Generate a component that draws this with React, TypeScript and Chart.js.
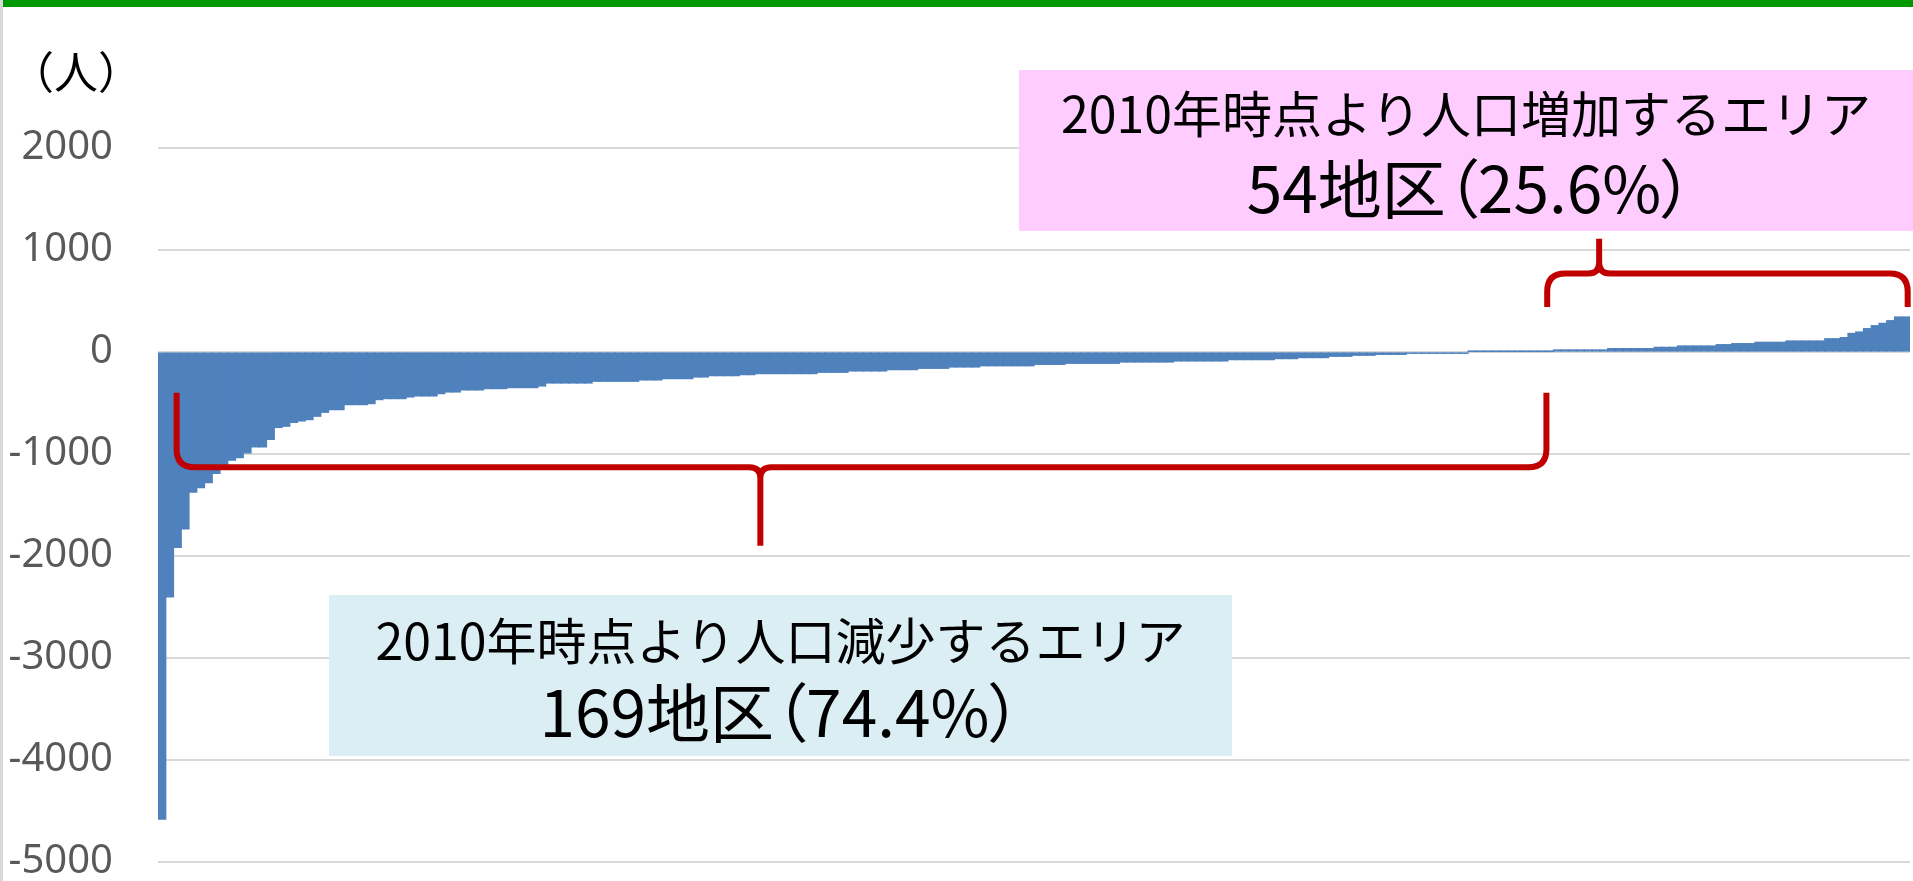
import React, { useEffect, useRef } from "react";
import { Chart, registerables } from "chart.js";

Chart.register(...registerables);

// Population change per district (2010 base), sorted ascending
const populationChange: number[] = [
  -4580, -2400, -1915, -1735, -1375, -1330, -1280, -1190, -1125, -1060,
  -1035, -990, -930, -930, -858, -740, -728, -690, -676, -663,
  -630, -591, -565, -565, -516, -516, -516, -506, -467, -457,
  -457, -457, -441, -431, -431, -431, -408, -392, -392, -372,
  -372, -372, -359, -359, -359, -349, -349, -349, -349, -333,
  -304, -304, -304, -304, -304, -304, -287, -287, -287, -287,
  -287, -287, -274, -274, -274, -261, -261, -261, -261, -245,
  -245, -232, -232, -232, -232, -222, -222, -212, -212, -212,
  -212, -212, -212, -212, -212, -199, -199, -199, -199, -186,
  -186, -186, -186, -186, -173, -173, -173, -173, -160, -160,
  -160, -160, -147, -147, -147, -147, -135, -135, -135, -135,
  -135, -135, -135, -121, -121, -121, -121, -111, -111, -111,
  -111, -111, -111, -111, -98, -98, -98, -98, -98, -98,
  -98, -88, -88, -88, -88, -88, -88, -88, -75, -75,
  -75, -75, -75, -75, -65, -65, -65, -55, -55, -55,
  -55, -42, -42, -42, -32, -32, -32, -23, -23, -23,
  -23, -13, -13, -13, -13, -13, -13, -13, -13, 5,
  5, 5, 5, 5, 5, 5, 5, 5, 5, 5,
  20, 20, 20, 20, 20, 20, 20, 33, 33, 33,
  33, 33, 33, 46, 46, 46, 59, 59, 59, 59,
  59, 72, 72, 82, 82, 82, 95, 95, 95, 95,
  108, 108, 108, 108, 108, 130, 130, 141, 182, 196,
  229, 258, 281, 307, 343, 343,
];
const districtRanks: string[] = populationChange.map((_, i) => `${i + 1}`);

const yAxisMin = -5000;
const yAxisMax = 2000;
const yAxisStep = 1000;

const yUnitLabel = "（人）";
const increaseTitle = "2010年時点より人口増加するエリア";
const increaseCount = "54地区（25.6%）";
const decreaseTitle = "2010年時点より人口減少するエリア";
const decreaseCount = "169地区（74.4%）";

// Braces (category index / value coordinates)
const decreaseBrace = { from: 1.9, to: 178.6, tip: 77.2, arm: -400, bar: -1130, point: -1900 };
const increaseBrace = { from: 178.7, to: 225.2, tip: 185.4, arm: 440, bar: 770, point: 1110 };

type Brace = { from: number; to: number; tip: number; arm: number; bar: number; point: number };

function drawBrace(chart: any, b: Brace) {
  const ctx: CanvasRenderingContext2D = chart.ctx;
  const xs = chart.scales.x;
  const ys = chart.scales.y;
  const x1 = xs.getPixelForValue(b.from);
  const x2 = xs.getPixelForValue(b.to);
  const xt = xs.getPixelForValue(b.tip);
  const ya = ys.getPixelForValue(b.arm);
  const yb = ys.getPixelForValue(b.bar);
  const yt = ys.getPixelForValue(b.point);
  const dir = Math.sign(yt - yb);
  const r = 18;
  const rt = 11;
  ctx.save();
  ctx.strokeStyle = "#C00000";
  ctx.lineWidth = 6;
  ctx.lineJoin = "round";
  ctx.beginPath();
  ctx.moveTo(x1, ya);
  ctx.lineTo(x1, yb - dir * r);
  ctx.quadraticCurveTo(x1, yb, x1 + r, yb);
  ctx.lineTo(xt - rt, yb);
  ctx.quadraticCurveTo(xt, yb, xt, yb + dir * rt);
  ctx.lineTo(xt, yt);
  ctx.moveTo(xt, yb + dir * rt);
  ctx.quadraticCurveTo(xt, yb, xt + rt, yb);
  ctx.lineTo(x2 - r, yb);
  ctx.quadraticCurveTo(x2, yb, x2, yb - dir * r);
  ctx.lineTo(x2, ya);
  ctx.stroke();
  ctx.restore();
}

const bracePlugin = {
  id: "braces",
  afterDatasetsDraw(chart: any) {
    drawBrace(chart, decreaseBrace);
    drawBrace(chart, increaseBrace);
  },
};

const jpFont = '"Noto Sans CJK JP", "Noto Sans", sans-serif';

export default function App() {
  const canvasRef = useRef<HTMLCanvasElement | null>(null);

  useEffect(() => {
    if (!canvasRef.current) return;
    const chart = new Chart(canvasRef.current, {
      type: "bar",
      data: {
        labels: districtRanks,
        datasets: [
          {
            data: populationChange,
            backgroundColor: "#4F81BD",
            borderWidth: 0,
            barPercentage: 1,
            categoryPercentage: 1,
            inflateAmount: 0.6,
          } as any,
        ],
      },
      options: {
        responsive: false,
        animation: false,
        events: [],
        layout: { padding: { top: 148, bottom: 19, left: 0, right: 3 } },
        plugins: { legend: { display: false }, tooltip: { enabled: false } },
        scales: {
          x: { display: false },
          y: {
            min: yAxisMin,
            max: yAxisMax,
            border: { display: false },
            grid: { color: "#D9D9D9", lineWidth: 2, drawTicks: false },
            ticks: {
              stepSize: yAxisStep,
              color: "#595959",
              padding: 45,
              font: { family: '"Noto Sans", sans-serif', size: 40 },
              callback: (v: any) => String(v),
            },
            afterFit: (scale: any) => {
              scale.width = 158;
            },
          },
        },
      } as any,
      plugins: [bracePlugin],
    });
    return () => chart.destroy();
  }, []);

  const line2Style: React.CSSProperties = {
    position: "absolute",
    left: 0,
    right: 0,
    fontSize: 64,
    lineHeight: "64px",
    whiteSpace: "nowrap",
    fontFeatureSettings: '"palt"',
  };

  return (
    <div
      style={{
        position: "absolute",
        left: 0,
        top: 0,
        width: 1913,
        height: 881,
        overflow: "hidden",
        background: "#FFFFFF",
      }}
    >
      {/* canvas extends below the visible area: the axis' own bottom overhang (69px) ends at y=862 */}
      <canvas ref={canvasRef} width={1913} height={931} style={{ position: "absolute", left: 0, top: 0 }} />
      <div style={{ position: "absolute", left: 0, top: 0, width: 1913, height: 7, background: "#009900" }} />
      <div style={{ position: "absolute", left: 0, top: 0, width: 3, height: 881, background: "#D9D9D9" }} />
      <div
        style={{
          position: "absolute",
          left: 10,
          top: 48,
          fontFamily: jpFont,
          fontSize: 44,
          lineHeight: "44px",
          color: "#000",
          whiteSpace: "nowrap",
        }}
      >
        {yUnitLabel}
      </div>
      <div
        style={{
          position: "absolute",
          left: 1019,
          top: 70,
          width: 894,
          height: 161,
          background: "#FFCCFF",
          fontFamily: jpFont,
          color: "#000",
          textAlign: "center",
        }}
      >
        <div style={{ position: "absolute", left: 0, right: 0, top: 16, fontSize: 50, lineHeight: "50px", whiteSpace: "nowrap" }}>
          {increaseTitle}
        </div>
        <div style={{ ...line2Style, top: 83, left: 8 }}>{increaseCount}</div>
      </div>
      <div
        style={{
          position: "absolute",
          left: 329,
          top: 595,
          width: 903,
          height: 161,
          background: "#DAEEF3",
          fontFamily: jpFont,
          color: "#000",
          textAlign: "center",
        }}
      >
        <div style={{ position: "absolute", left: 0, right: 0, top: 18, fontSize: 50, lineHeight: "50px", whiteSpace: "nowrap" }}>
          {decreaseTitle}
        </div>
        <div style={{ ...line2Style, top: 82 }}>{decreaseCount}</div>
      </div>
    </div>
  );
}
